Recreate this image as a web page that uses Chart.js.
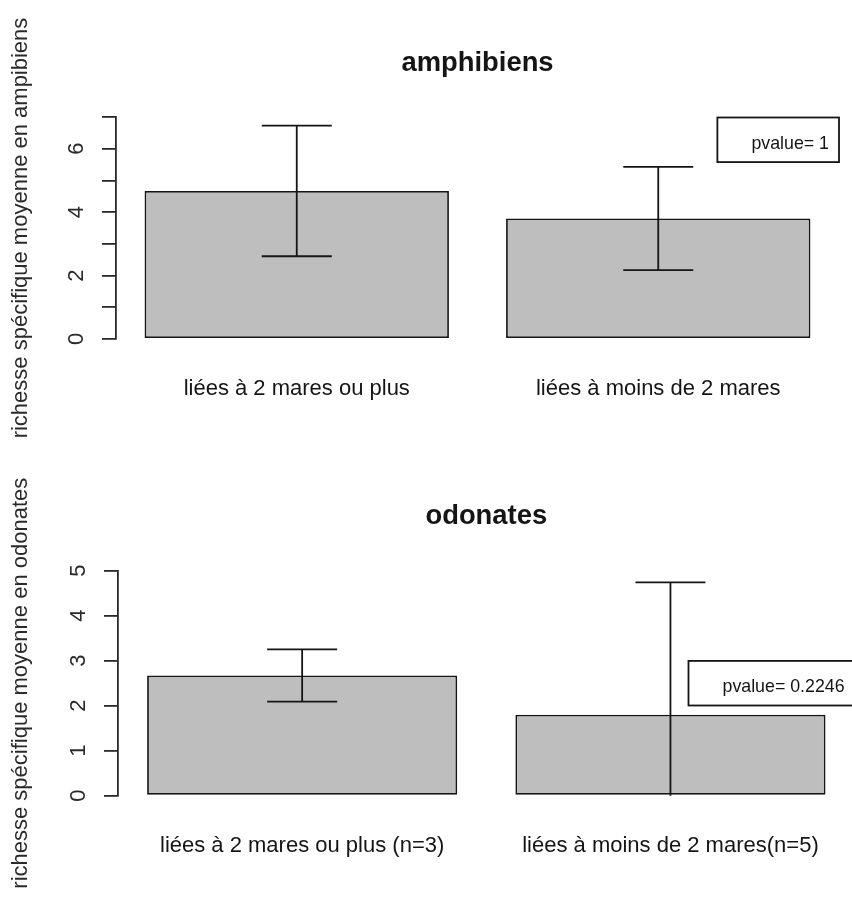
<!DOCTYPE html>
<html>
<head>
<meta charset="utf-8">
<script src="https://cdn.jsdelivr.net/npm/chart.js@4.4.0/dist/chart.umd.min.js"></script>
<style>
    html, body { margin: 0; padding: 0; background: #fff; overflow: hidden; width: 852px; height: 903px; }
    canvas { position: absolute; left: 0; }
    #chartTop { top: 0; }
    #chartBottom { top: 452px; }
</style>
</head>
<body>
<canvas id="chartTop" width="852" height="452"></canvas>
<canvas id="chartBottom" width="870" height="451"></canvas>
<script>
// Données (moyenne +/- écart-type)
const categoriesAmphibiens = ['liées à 2 mares ou plus', 'liées à moins de 2 mares'];
const categoriesOdonates = ['liées à 2 mares ou plus (n=3)', 'liées à moins de 2 mares(n=5)'];
const meansAmphibiens = [4.67, 3.8];
const sdAmphibiens = [2.06, 1.63];
const meansOdonates = [2.67, 1.8];
const sdOdonates = [0.58, 2.94];
const yTicksAmphibiens = [0, 1, 2, 3, 4, 5, 6, 7];
const yLabelsAmphibiens = [0, 2, 4, 6];
const yTicksOdonates = [0, 1, 2, 3, 4, 5];
const yLabelsOdonates = [0, 1, 2, 3, 4, 5];
const pvalueAmphibiens = 'pvalue= 1';
const pvalueOdonates = 'pvalue= 0.2246';

const FONT = '"Liberation Sans", Arial, sans-serif';
const INK = '#151515';

// barres d'erreur façon arrows(..., angle=90, code=3)
const errorBarsPlugin = {
    id: 'errorBars',
    afterDatasetsDraw(chart, args, opts) {
        const { ctx, chartArea } = chart;
        const y = chart.scales.y;
        const meta = chart.getDatasetMeta(0);
        ctx.save();
        ctx.beginPath();
        ctx.rect(chartArea.left, chartArea.top, chartArea.right - chartArea.left, chartArea.bottom - chartArea.top);
        ctx.clip();
        ctx.strokeStyle = INK;
        ctx.lineWidth = 1.8;
        meta.data.forEach((bar, i) => {
            const m = opts.means[i];
            const sd = opts.sd[i];
            const yTop = y.getPixelForValue(m + sd);
            const yBot = y.getPixelForValue(m - sd);
            ctx.beginPath();
            ctx.moveTo(bar.x, yTop);
            ctx.lineTo(bar.x, yBot);
            ctx.moveTo(bar.x - 35, yTop);
            ctx.lineTo(bar.x + 35, yTop);
            ctx.moveTo(bar.x - 35, yBot);
            ctx.lineTo(bar.x + 35, yBot);
            ctx.stroke();
        });
        ctx.restore();
    }
};

// titre, étiquettes verticales de l'axe y et légende pvalue
const decorPlugin = {
    id: 'decor',
    afterDraw(chart, args, opts) {
        const { ctx, chartArea } = chart;
        const y = chart.scales.y;
        ctx.save();
        ctx.fillStyle = INK;

        // titre principal
        ctx.font = 'bold 27.4px ' + FONT;
        ctx.textAlign = 'center';
        ctx.textBaseline = 'alphabetic';
        ctx.fillText(opts.title, (chartArea.left + chartArea.right) / 2, chartArea.top - 46.5);

        // étiquettes de l'axe y (las = 0)
        ctx.font = '22px ' + FONT;
        ctx.fillStyle = '#2a2a2a';
        opts.yLabels.forEach(v => {
            ctx.save();
            ctx.translate(chartArea.left - 33.5, y.getPixelForValue(v));
            ctx.rotate(-Math.PI / 2);
            ctx.fillText(String(v), 0, 0);
            ctx.restore();
        });

        // légende
        ctx.font = '17.8px ' + FONT;
        const w = ctx.measureText(opts.pvalue).width + 44;
        const h = 44.6;
        const bx = chartArea.right - w;
        const by = opts.legendPos === 'right'
            ? (chartArea.top + chartArea.bottom) / 2 - h / 2
            : chartArea.top + 0.5;
        ctx.fillStyle = '#fff';
        ctx.fillRect(bx, by, w, h);
        ctx.strokeStyle = INK;
        ctx.lineWidth = 1.8;
        ctx.strokeRect(bx, by, w, h);
        ctx.fillStyle = INK;
        ctx.textAlign = 'left';
        ctx.fillText(opts.pvalue, bx + 34, by + 31);
        ctx.restore();
    }
};

function makePanel(canvasId, cfg) {
    const ctx = document.getElementById(canvasId).getContext('2d');
    return new Chart(ctx, {
        type: 'bar',
        data: {
            labels: cfg.categories,
            datasets: [{
                data: cfg.means,
                backgroundColor: '#bebebe',
                borderColor: INK,
                borderWidth: 1.8,
                borderSkipped: false,
                categoryPercentage: 1,
                barPercentage: 0.842
            }]
        },
        options: {
            responsive: false,
            animation: false,
            layout: { padding: { top: cfg.top, left: 0, right: cfg.right, bottom: 0 } },
            plugins: {
                legend: { display: false },
                tooltip: { enabled: false },
                title: { display: false },
                errorBars: { means: cfg.means, sd: cfg.sd },
                decor: { title: cfg.title, yLabels: cfg.yLabels, pvalue: cfg.pvalue, legendPos: cfg.legendPos }
            },
            scales: {
                x: {
                    grid: { display: false },
                    border: { display: false },
                    ticks: { color: INK, font: { family: FONT, size: 22 }, padding: 29, maxRotation: 0 },
                    afterFit: s => { s.height = cfg.xHeight; }
                },
                y: {
                    min: 0,
                    max: cfg.yTicks[cfg.yTicks.length - 1],
                    afterBuildTicks: s => { s.ticks = cfg.yTicks.map(v => ({ value: v })); },
                    ticks: { display: false },
                    grid: { drawOnChartArea: false, drawTicks: true, tickLength: 14, color: '#2a2a2a', lineWidth: 1.8 },
                    border: { display: true, color: '#2a2a2a', width: 1.8 },
                    title: {
                        display: true,
                        text: cfg.yTitle,
                        color: '#2a2a2a',
                        font: { family: FONT, size: 22 },
                        padding: { top: 8, bottom: 0 }
                    },
                    afterFit: s => { s.width = cfg.yWidth; }
                }
            }
        },
        plugins: [errorBarsPlugin, decorPlugin]
    });
}

makePanel('chartTop', {
    categories: categoriesAmphibiens,
    means: meansAmphibiens,
    sd: sdAmphibiens,
    yTicks: yTicksAmphibiens,
    yLabels: yLabelsAmphibiens,
    title: 'amphibiens',
    yTitle: 'richesse spécifique moyenne en ampibiens',
    pvalue: pvalueAmphibiens,
    legendPos: 'topright',
    top: 117, right: 13, yWidth: 116, xHeight: 113
});

makePanel('chartBottom', {
    categories: categoriesOdonates,
    means: meansOdonates,
    sd: sdOdonates,
    yTicks: yTicksOdonates,
    yLabels: yLabelsOdonates,
    title: 'odonates',
    yTitle: 'richesse spécifique moyenne en odonates',
    pvalue: pvalueOdonates,
    legendPos: 'right',
    top: 118.7, right: 15.4, yWidth: 118, xHeight: 107.3
});
</script>
</body>
</html>
